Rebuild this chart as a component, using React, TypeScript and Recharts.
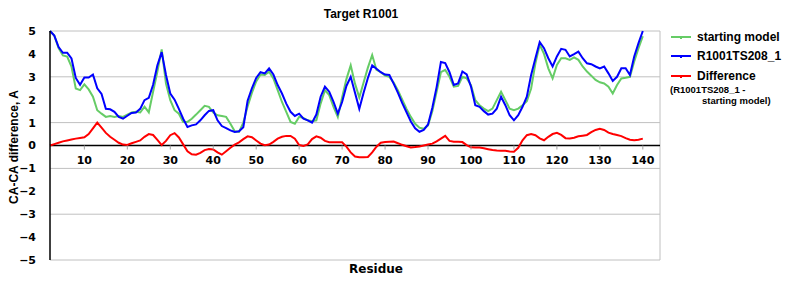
import { LineChart, Line, XAxis, YAxis, CartesianGrid, ReferenceLine, ReferenceDot } from 'recharts'

const firstResidue = 2
const xTicks = [10, 20, 30, 40, 50, 60, 70, 80, 90, 100, 110, 120, 130, 140]
const yTicks = [-5, -4, -3, -2, -1, 0, 1, 2, 3, 4, 5]

// R1001TS208_1, residues 2..140
const modelValues = [
  5.0, 4.8, 4.3, 4.05, 4.05, 3.8, 2.95, 2.65, 2.97, 2.97,
  3.1, 2.5, 2.25, 1.6, 1.58, 1.47, 1.25, 1.17, 1.3, 1.42,
  1.44, 1.6, 1.98, 2.08, 2.65, 3.5, 4.08, 3.08, 2.27, 2.0,
  1.6, 1.17, 0.81, 0.88, 0.92, 1.1, 1.32, 1.51, 1.54, 1.1,
  0.85, 0.76, 0.66, 0.59, 0.62, 0.8, 1.95, 2.5, 2.95, 3.2,
  3.15, 3.37, 3.1, 2.64, 2.27, 1.83, 1.47, 1.29, 1.39, 1.17,
  1.1, 1.0, 1.35, 2.13, 2.57, 2.35, 1.9, 1.39, 1.9, 2.6,
  3.0, 2.3, 1.6, 2.3, 2.95, 3.5, 3.35, 3.2, 3.1, 3.08,
  2.7, 2.3, 1.85, 1.45, 1.05, 0.75, 0.6, 0.68, 0.92, 1.65,
  2.55, 3.65, 3.6, 3.2, 2.64, 2.71, 3.23, 3.1, 2.57, 1.76,
  1.69, 1.5, 1.35, 1.39, 1.61, 2.13, 1.76, 1.32, 1.1, 1.32,
  1.69, 2.13, 3.08, 3.81, 4.52, 4.25, 3.81, 3.45, 3.89, 4.22,
  4.18, 3.89, 3.99, 4.1, 3.81, 3.59, 3.55, 3.45, 3.37, 3.45,
  3.15, 2.82, 3.0, 3.37, 3.37, 3.08, 3.89, 4.47, 5.0,
]

// starting model
const startValues = [
  5.0, 4.8, 4.25, 3.93, 3.88, 3.45, 2.49, 2.42, 2.67, 2.45,
  2.13, 1.54, 1.39, 1.25, 1.29, 1.25, 1.29, 1.25, 1.35, 1.44,
  1.47, 1.44, 1.7, 1.45, 2.35, 3.23, 4.2, 2.71, 1.98, 1.54,
  1.39, 1.03, 1.03, 1.17, 1.35, 1.54, 1.73, 1.69, 1.44, 1.32,
  1.29, 1.25, 0.95, 0.62, 0.59, 1.0, 1.7, 2.3, 2.8, 3.1,
  3.08, 3.22, 2.93, 2.42, 1.9, 1.47, 1.03, 0.95, 1.25, 1.2,
  1.1, 1.06, 1.1, 1.83, 2.42, 2.2, 1.69, 1.25, 2.1, 2.9,
  3.5, 2.7, 2.1, 2.75, 3.4, 3.95, 3.3, 3.2, 3.05, 3.0,
  2.75, 2.4, 2.0, 1.6, 1.25, 0.95, 0.78, 0.73, 0.88, 1.5,
  2.35, 3.2, 3.3, 3.0, 2.57, 2.6, 3.0, 2.93, 2.64, 1.98,
  1.76, 1.61, 1.5, 1.61, 1.98, 2.35, 1.98, 1.61, 1.54, 1.61,
  1.76, 1.94, 2.49, 3.59, 4.4, 4.0, 3.37, 2.93, 3.52, 3.81,
  3.81, 3.74, 3.85, 3.74, 3.45, 3.23, 3.05, 2.86, 2.76, 2.71,
  2.57, 2.27, 2.64, 2.93, 2.96, 3.0, 3.67, 4.25, 4.77,
]

// Difference (R1001TS208_1 - starting model)
const diffValues = [
  0, 0.06, 0.12, 0.18, 0.22, 0.26, 0.3, 0.33, 0.36, 0.5,
  0.75, 1.0, 0.78, 0.55, 0.38, 0.25, 0.12, 0.04, 0.02, 0.1,
  0.16, 0.22, 0.38, 0.5, 0.46, 0.25, 0.02, 0.2, 0.45, 0.54,
  0.35, 0.05, -0.25, -0.38, -0.4, -0.32, -0.2, -0.15, -0.17, -0.3,
  -0.4, -0.25, -0.1, 0.04, 0.14, 0.28, 0.4, 0.36, 0.22, 0.08,
  0.01, 0.04, 0.16, 0.3, 0.38, 0.42, 0.42, 0.3, 0.02, -0.02,
  0.05, 0.28, 0.4, 0.34, 0.2, 0.14, 0.14, 0.14, 0.14, -0.05,
  -0.3, -0.48, -0.51, -0.51, -0.5, -0.3, -0.05, 0.12, 0.15, 0.16,
  0.17, 0.1, 0.03, -0.03, -0.09, -0.07, -0.04, 0, 0.04, 0.08,
  0.18, 0.3, 0.42, 0.2, 0.16, 0.16, 0.15, 0.02, -0.08, -0.09,
  -0.09, -0.12, -0.16, -0.2, -0.22, -0.23, -0.23, -0.26, -0.27, -0.1,
  0.23, 0.45, 0.5, 0.45, 0.31, 0.23, 0.38, 0.5, 0.55, 0.46,
  0.32, 0.31, 0.34, 0.4, 0.43, 0.46, 0.58, 0.68, 0.73, 0.68,
  0.56, 0.5, 0.46, 0.41, 0.32, 0.25, 0.23, 0.25, 0.3,
]

const GREEN = '#66cc66'
const BLUE = '#0000ff'
const RED = '#ff0000'

const data = modelValues.map((v, i) => ({
  r: firstResidue + i,
  model: v,
  start: startValues[i],
  diff: diffValues[i],
}))

const arial = '"Liberation Sans", Arial, sans-serif'
const dejavu = '"DejaVu Sans", Verdana, sans-serif'

// x tick label drawn on the zero line, like Excel's crossing axis
const ZeroTick = ({ cx, cy, value }: any) => (
  <g>
    <line x1={cx} x2={cx} y1={cy} y2={cy + 4} stroke="#a0a0a0" />
    <text x={cx} y={cy + 18} textAnchor="middle" fontFamily={dejavu} fontWeight="bold" fontSize={11} fill="#000">
      {value}
    </text>
  </g>
)

const legendRows = [
  { color: GREEN, label: 'starting model' },
  { color: BLUE, label: 'R1001TS208_1' },
  { color: RED, label: 'Difference' },
]

export default function App() {
  return (
    <div style={{ position: 'absolute', left: 0, top: 0, width: 800, height: 300, background: '#fff' }}>
      <LineChart width={800} height={300} data={data} margin={{ top: 31, right: 140, bottom: 40, left: 0 }}>
        <CartesianGrid stroke="#c0c0c0" vertical={false} />
        <XAxis dataKey="r" type="number" domain={[2, 144]} hide />
        <YAxis
          domain={[-5, 5]}
          ticks={yTicks}
          width={50}
          tickLine={false}
          tickMargin={8}
          axisLine={{ stroke: '#000', strokeWidth: 1.5 }}
          tickFormatter={(v: number) => (v < 0 ? '\u2212' + Math.abs(v) : String(v))}
          tick={{ fontFamily: dejavu, fontWeight: 'bold', fontSize: 11, fill: '#000' }}
        />
        <ReferenceLine x={144} stroke="#c0c0c0" />
        <ReferenceLine y={0} stroke="#000" strokeWidth={1.5} />
        {xTicks.map(t => (
          <ReferenceDot key={t} x={t} y={0} r={0} shape={(p: any) => <ZeroTick {...p} value={t} />} />
        ))}
        <Line dataKey="start" stroke={GREEN} strokeWidth={2} dot={false} isAnimationActive={false} />
        <Line dataKey="model" stroke={BLUE} strokeWidth={2} dot={false} isAnimationActive={false} />
        <Line dataKey="diff" stroke={RED} strokeWidth={2} dot={false} isAnimationActive={false} />
      </LineChart>

      <div style={{ position: 'absolute', left: 0, width: 722, top: 7, textAlign: 'center', fontFamily: arial, fontWeight: 'bold', fontSize: 12 }}>
        Target R1001
      </div>
      <div style={{ position: 'absolute', left: 300, width: 152, top: 262, textAlign: 'center', fontFamily: dejavu, fontWeight: 'bold', fontSize: 12 }}>
        Residue
      </div>
      <div
        style={{
          position: 'absolute', left: 15, top: 147, width: 160, marginLeft: -80, marginTop: -8, height: 16,
          textAlign: 'center', transform: 'rotate(-90deg)', fontFamily: arial, fontWeight: 'bold', fontSize: 12,
        }}
      >
        CA-CA difference, A
      </div>

      <div style={{ position: 'absolute', left: 670, top: 27, fontFamily: arial, fontWeight: 'bold', fontSize: 12 }}>
        {legendRows.map(row => (
          <div key={row.label} style={{ display: 'flex', alignItems: 'center', height: 19.5 }}>
            <svg width={24} height={8} style={{ marginRight: 3 }}>
              <line x1={1} x2={21} y1={4} y2={4} stroke={row.color} strokeWidth={2} />
              <rect x={10} y={3} width={2} height={3} fill={row.color} />
            </svg>
            <span>{row.label}</span>
          </div>
        ))}
        <div style={{ fontSize: 9.5, lineHeight: '11px', marginTop: -2 }}>
          (R1001TS208_1 -
          <div style={{ paddingLeft: 32 }}>starting model)</div>
        </div>
      </div>
    </div>
  )
}
